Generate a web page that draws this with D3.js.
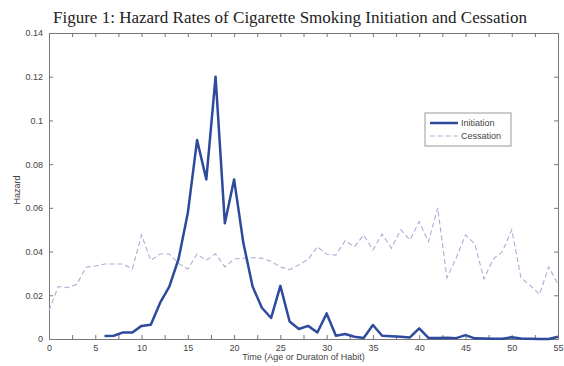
<!DOCTYPE html>
<html><head><meta charset="utf-8">
<script src="https://cdn.jsdelivr.net/npm/d3@7"></script>
<style>body{margin:0;background:#fff;}svg{display:block;}</style>
</head><body>
<svg id="c" width="564" height="366"></svg>
<script>
const years = d3.range(0, 56);
const initiationYears = d3.range(6, 56);
const initiation = [0.0014,0.0015,0.003,0.003,0.006,0.0065,0.0165,0.024,0.0366,0.0576,
  0.091,0.073,0.12,0.053,0.073,0.044,0.024,0.0143,0.0096,0.0243,
  0.008,0.0046,0.006,0.003,0.0117,0.0015,0.0023,0.001,0.0005,0.0064,
  0.0015,0.0013,0.001,0.0007,0.0049,0.0005,0.0005,0.0006,0.0004,0.0018,
  0.0003,0.0002,0.0001,0.0001,0.0008,0.0002,0.0001,0,0,0.001];
const cessation = [0.013,0.024,0.0235,0.025,0.0328,0.0334,0.0343,0.0343,0.0343,0.032,
  0.0476,0.036,0.0389,0.0389,0.0346,0.032,0.0389,0.036,0.039,0.033,
  0.0366,0.037,0.0372,0.037,0.0355,0.033,0.0317,0.034,0.0364,0.0422,
  0.0388,0.0384,0.045,0.0422,0.0476,0.0407,0.048,0.0415,0.050,0.0453,
  0.0537,0.0445,0.060,0.028,0.037,0.0476,0.0436,0.0275,0.0366,0.040,
  0.050,0.028,0.0245,0.0204,0.033,0.025];
const xTicks = d3.range(0, 55.1, 2.5);
const xLabels = [0,5,10,15,20,25,30,35,40,45,50,55];
const yTicks = [0,0.02,0.04,0.06,0.08,0.1,0.12,0.14];
const seriesNames = ["Initiation","Cessation"];

const svg = d3.select("#c");
const L = 49, R = 558, T = 33, B = 339;
const x = d3.scaleLinear().domain([0,55]).range([L,R]);
const y = d3.scaleLinear().domain([0,0.14]).range([B,T]);
const axisColor = "#777";
const font = "Liberation Sans, Arial, sans-serif";

// title
svg.append("text").attr("x",53).attr("y",23)
  .attr("font-family","Liberation Serif, DejaVu Serif, serif").attr("font-size",16)
  .attr("textLength",474).attr("lengthAdjust","spacingAndGlyphs")
  .attr("fill","#222").text("Figure 1: Hazard Rates of Cigarette Smoking Initiation and Cessation");

// axes
const fmt = d => d===0 ? "0" : String(+d.toFixed(2));
const gx = svg.append("g").attr("transform",`translate(0,${B})`)
  .call(d3.axisBottom(x).tickValues(xTicks).tickSizeInner(-4).tickSizeOuter(0)
  .tickFormat(d => xLabels.includes(d) ? d : "").tickPadding(6));
const gxt = svg.append("g").attr("transform",`translate(0,${T})`)
  .call(d3.axisTop(x).tickValues(xTicks).tickSizeInner(-4).tickSizeOuter(0).tickFormat(""));
const gy = svg.append("g").attr("transform",`translate(${L},0)`)
  .call(d3.axisLeft(y).tickValues(yTicks).tickSizeInner(-4).tickSizeOuter(0).tickFormat(fmt).tickPadding(6));
const gyr = svg.append("g").attr("transform",`translate(${R},0)`)
  .call(d3.axisRight(y).tickValues(yTicks).tickSizeInner(-4).tickSizeOuter(0).tickFormat(""));
[gx,gxt,gy,gyr].forEach(g => {
  g.selectAll("path,line").attr("stroke",axisColor);
  g.selectAll("text").attr("font-family",font).attr("font-size",9).attr("fill","#444");
});

// axis labels
svg.append("text").attr("x",(L+R)/2).attr("y",360).attr("text-anchor","middle")
  .attr("font-family",font).attr("font-size",9).attr("fill","#444").text("Time (Age or Duraton of Habit)");
svg.append("text").attr("transform","translate(20,190) rotate(-90)").attr("text-anchor","middle")
  .attr("font-family",font).attr("font-size",9).attr("fill","#444").text("Hazard");

// lines
const line = d3.line().x(d => x(d[0])).y(d => y(d[1]));
svg.append("path").datum(years.map((t,i)=>[t,cessation[i]]))
  .attr("d",line).attr("fill","none").attr("stroke","#a9aed6").attr("stroke-width",1.1)
  .attr("stroke-dasharray","5,3");
svg.append("path").datum(initiationYears.map((t,i)=>[t,initiation[i]]))
  .attr("d",line).attr("fill","none").attr("stroke","#2d4a9c").attr("stroke-width",2.5)
  .attr("stroke-linejoin","round");

// legend
const lg = svg.append("g").attr("transform","translate(425,113)");
lg.append("rect").attr("width",86).attr("height",33).attr("fill","#fff").attr("stroke","#999").attr("stroke-width",1);
lg.append("line").attr("x1",5).attr("x2",33).attr("y1",10).attr("y2",10).attr("stroke","#2d4a9c").attr("stroke-width",2.5);
lg.append("line").attr("x1",5).attr("x2",33).attr("y1",23).attr("y2",23).attr("stroke","#a9aed6").attr("stroke-width",1.1).attr("stroke-dasharray","5,3");
seriesNames.forEach((n,i) => lg.append("text").attr("x",36).attr("y",13+13*i)
  .attr("font-family",font).attr("font-size",9).attr("fill","#444").text(n));
</script>
</body></html>
